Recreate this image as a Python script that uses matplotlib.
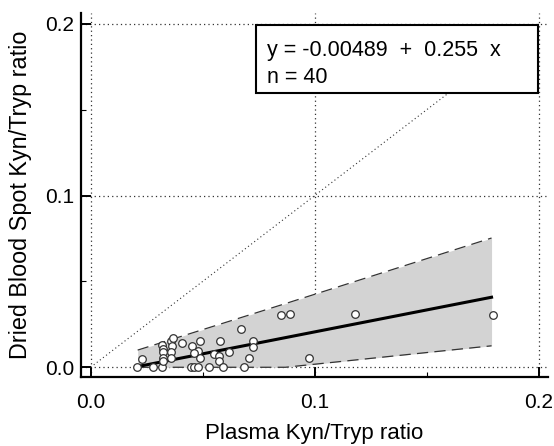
import matplotlib.pyplot as plt
from matplotlib.patches import Rectangle

plt.rcParams['font.family'] = ['Liberation Sans', 'DejaVu Sans']

# scatter data (plasma ratio, DBS ratio)
plasma = [0.0208, 0.0229, 0.0277, 0.0317, 0.0320, 0.0322, 0.0325, 0.0322, 0.0325,
          0.0357, 0.0368, 0.0363, 0.0360, 0.0357, 0.0406, 0.0451, 0.0446, 0.0462,
          0.0480, 0.0488, 0.0478, 0.0488, 0.0460, 0.0530, 0.0552, 0.0574, 0.0571,
          0.0577, 0.0589, 0.0619, 0.0671, 0.0686, 0.0708, 0.0726, 0.0726, 0.0850,
          0.0889, 0.0977, 0.1180, 0.1797]
dbs = [0.0000, 0.0050, 0.0000, 0.0000, 0.0128, 0.0105, 0.0089, 0.0052, 0.0035,
       0.0151, 0.0171, 0.0122, 0.0089, 0.0052, 0.0142, 0.0122, 0.0000, 0.0000,
       0.0000, 0.0153, 0.0097, 0.0052, 0.0085, 0.0000, 0.0075, 0.0064, 0.0038,
       0.0151, 0.0000, 0.0091, 0.0224, 0.0000, 0.0053, 0.0152, 0.0120, 0.0305,
       0.0312, 0.0052, 0.0312, 0.0305]

# regression line + confidence band
fit_x = [0.0210, 0.1790]
fit_y = [0.0004, 0.0408]
band_x = [0.0210, 0.0870, 0.1790]
band_hi = [0.0100, 0.0371, 0.0753]
band_lo = [0.0000, 0.0000, 0.0125]

ident = [0.0, 0.2]

fig = plt.figure(figsize=(5.54, 4.46), dpi=100)
ax = fig.add_axes([81/554, 1 - 376.7/446, 467/554, 363.7/446])
ax.set_xlim(-0.0043, 0.2042)
ax.set_ylim(-0.0055, 0.2064)

for s in ['top', 'right']:
    ax.spines[s].set_visible(False)
for s in ['left', 'bottom']:
    ax.spines[s].set_linewidth(1.6)

ax.set_xticks([0.0, 0.1, 0.2])
ax.set_yticks([0.0, 0.1, 0.2])
ax.set_xticks([0.05, 0.15], minor=True)
ax.set_yticks([0.05, 0.15], minor=True)
ax.set_xticklabels(['0.0', '0.1', '0.2'])
ax.set_yticklabels(['0.0', '0.1', '0.2'])
ax.tick_params(which='major', direction='in', length=7.5, width=1.4, labelsize=15)
ax.tick_params(axis='x', which='major', pad=12)
ax.tick_params(axis='y', which='major', pad=5)
ax.tick_params(which='minor', direction='in', length=3.5, width=0.8)

ax.grid(True, which='major', linestyle=(0, (1, 2.5)), color='#333333', linewidth=0.9)

ax.plot(ident, ident, linestyle=(0, (1, 2.5)), color='#333333', linewidth=0.8, zorder=2)

ax.fill_between(band_x, band_lo, band_hi, color='#d3d3d3', linewidth=0, zorder=3)
ax.plot(band_x, band_hi, color='#333333', linestyle=(0, (9, 5)), linewidth=0.9, zorder=4)
ax.plot(band_x, band_lo, color='#333333', linestyle=(0, (9, 5)), linewidth=0.9, zorder=4)
ax.plot(fit_x, fit_y, color='black', linewidth=2.2, zorder=5)

ax.scatter(plasma, dbs, s=30, facecolor='white', edgecolor='#333333', linewidth=0.9, zorder=6, clip_on=False)

box = Rectangle((0.3747, 0.780), 0.9786 - 0.3747, 0.967 - 0.780, transform=ax.transAxes,
                facecolor='white', edgecolor='black', linewidth=1.5, zorder=7)
ax.add_patch(box)
ax.text(0.3976, 0.8818, 'y = -0.00489  +  0.255  x', transform=ax.transAxes,
        fontsize=15.5, zorder=8)
ax.text(0.3976, 0.8075, 'n = 40', transform=ax.transAxes, fontsize=15.5, zorder=8)

ax.set_xlabel('Plasma Kyn/Tryp ratio', fontsize=16, labelpad=8)
ax.set_ylabel('Dried Blood Spot Kyn/Tryp ratio', fontsize=16.8, labelpad=9)

fig.savefig('out.png', dpi=100)
